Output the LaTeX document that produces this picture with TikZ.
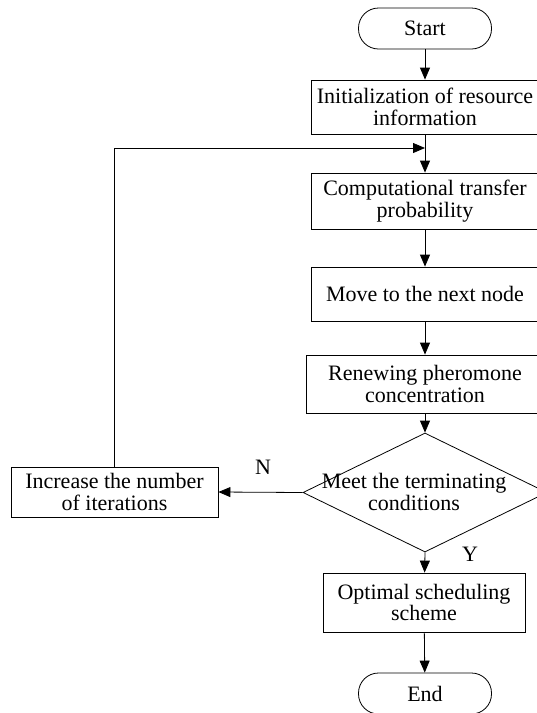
\documentclass[tikz,border=0pt]{standalone}
\usepackage{fontspec}
\setmainfont{Liberation Serif}
\usetikzlibrary{shapes.geometric,arrows.meta}

\tikzset{
  base/.style={draw, line width=0.8pt, align=center, inner sep=0pt,
    font=\fontsize{22}{21.5}\selectfont},
  procbox/.style={base, rectangle},
  terminal/.style={base, rectangle, rounded corners=20pt,
    minimum width=133pt, minimum height=41pt},
  decision/.style={draw, line width=0.8pt, diamond, inner sep=0pt,
    minimum width=244pt, minimum height=119pt},
  plain/.style={align=center, inner sep=0pt,
    font=\fontsize{22}{21.5}\selectfont},
  arr/.style={line width=0.8pt, -{Triangle[length=12pt,width=10pt]}},
}

\begin{document}
\begin{tikzpicture}[x=1pt, y=-1pt]
  \useasboundingbox (0,0) rectangle (537,713);
  \clip (0,0) rectangle (537,713);

  % main column
  \node[terminal] (start) at (425,28.5) {Start};
  \node[procbox, minimum width=228pt, minimum height=54pt] (init) at (425,107)
    {Initialization of resource\\information};
  \node[procbox, minimum width=228pt, minimum height=56pt] (comp) at (425,201)
    {Computational transfer\\probability};
  \node[procbox, minimum width=228pt, minimum height=54pt] (move) at (425,294)
    {Move to the next node};
  \node[procbox, minimum width=238pt, minimum height=58pt] (renew) at (425,384)
    {Renewing pheromone\\concentration};
  \node[decision] (dec) at (425,492.5) {};
  \node[plain] (dectext) at (414,492) {Meet the terminating\\conditions};
  \node[procbox, minimum width=202pt, minimum height=59pt] (opt) at (424,602.5)
    {Optimal scheduling\\scheme};
  \node[terminal] (end) at (425,693.5) {End};

  % loop-back box
  \node[procbox, minimum width=207pt, minimum height=50pt] (inc) at (114.5,492)
    {Increase the number\\of iterations};

  % branch labels
  \node[plain] (nlab) at (263,467) {N};
  \node[plain] (ylab) at (470,554) {Y};

  % connectors
  \coordinate (join) at (425,148);
  \draw[arr] (start) -- (init);
  \draw[arr] (init) -- (comp);
  \draw[arr] (comp) -- (move);
  \draw[arr] (move) -- (renew);
  \draw[arr] (renew) -- (dec.north);
  \draw[arr] (dec.west) -- (inc.east);
  \draw[arr] (inc.north) |- (join);
  \draw[arr] (dec.south) -- (opt);
  \draw[arr] (opt) -- (end);
\end{tikzpicture}
\end{document}
